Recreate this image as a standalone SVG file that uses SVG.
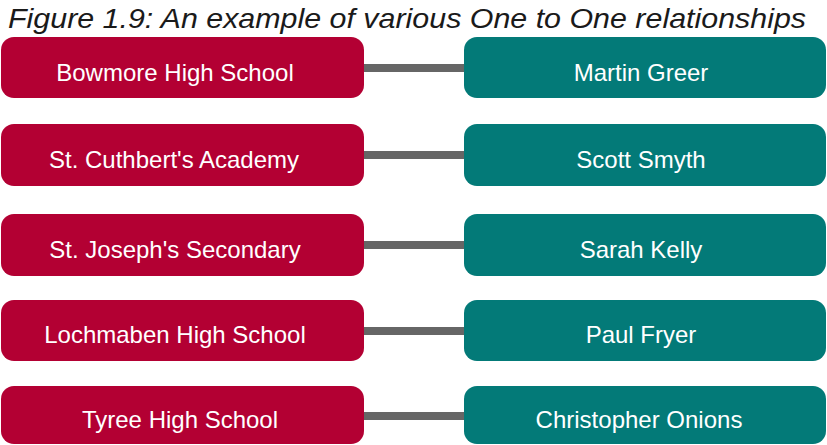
<svg xmlns="http://www.w3.org/2000/svg" width="827" height="445" viewBox="0 0 827 445">
  <style>
    .title { font-family: "Liberation Sans", Arial, sans-serif; font-style: italic; font-size: 28px; fill: #1a1a1a; text-anchor: middle; }
    .school rect { fill: #b30033; }
    .person rect { fill: #037a78; }
    .label { font-family: "Liberation Sans", Arial, sans-serif; font-size: 24px; fill: #ffffff; text-anchor: middle; }
    .link { stroke: #666666; stroke-width: 8; fill: none; }
  </style>
  <rect width="827" height="445" fill="#ffffff"/>
  <text class="title" x="407" y="28" textLength="798" lengthAdjust="spacingAndGlyphs">Figure 1.9: An example of various One to One relationships</text>

  <g id="connectors">
    <line class="link" x1="362" y1="68" x2="466" y2="68"/>
    <line class="link" x1="362" y1="155" x2="466" y2="155"/>
    <line class="link" x1="362" y1="245" x2="466" y2="245"/>
    <line class="link" x1="362" y1="331" x2="466" y2="331"/>
    <line class="link" x1="362" y1="416" x2="466" y2="416"/>
  </g>

  <g id="school-bowmore" class="school">
    <rect x="1" y="37" width="363" height="61" rx="13"/>
    <text class="label" x="175" y="81">Bowmore High School</text>
  </g>
  <g id="person-greer" class="person">
    <rect x="464" y="37" width="362" height="61" rx="13"/>
    <text class="label" x="641" y="81">Martin Greer</text>
  </g>

  <g id="school-cuthbert" class="school">
    <rect x="1" y="124" width="363" height="62" rx="13"/>
    <text class="label" x="174" y="168">St. Cuthbert's Academy</text>
  </g>
  <g id="person-smyth" class="person">
    <rect x="464" y="124" width="362" height="62" rx="13"/>
    <text class="label" x="641" y="168">Scott Smyth</text>
  </g>

  <g id="school-joseph" class="school">
    <rect x="1" y="214" width="363" height="62" rx="13"/>
    <text class="label" x="175" y="258">St. Joseph's Secondary</text>
  </g>
  <g id="person-kelly" class="person">
    <rect x="464" y="214" width="362" height="62" rx="13"/>
    <text class="label" x="641" y="258">Sarah Kelly</text>
  </g>

  <g id="school-lochmaben" class="school">
    <rect x="1" y="300" width="363" height="61" rx="13"/>
    <text class="label" x="175" y="343">Lochmaben High School</text>
  </g>
  <g id="person-fryer" class="person">
    <rect x="464" y="300" width="362" height="61" rx="13"/>
    <text class="label" x="641" y="343">Paul Fryer</text>
  </g>

  <g id="school-tyree" class="school">
    <rect x="1" y="386" width="363" height="58" rx="13"/>
    <text class="label" x="180" y="428">Tyree High School</text>
  </g>
  <g id="person-onions" class="person">
    <rect x="464" y="386" width="362" height="58" rx="13"/>
    <text class="label" x="639" y="428">Christopher Onions</text>
  </g>
</svg>
